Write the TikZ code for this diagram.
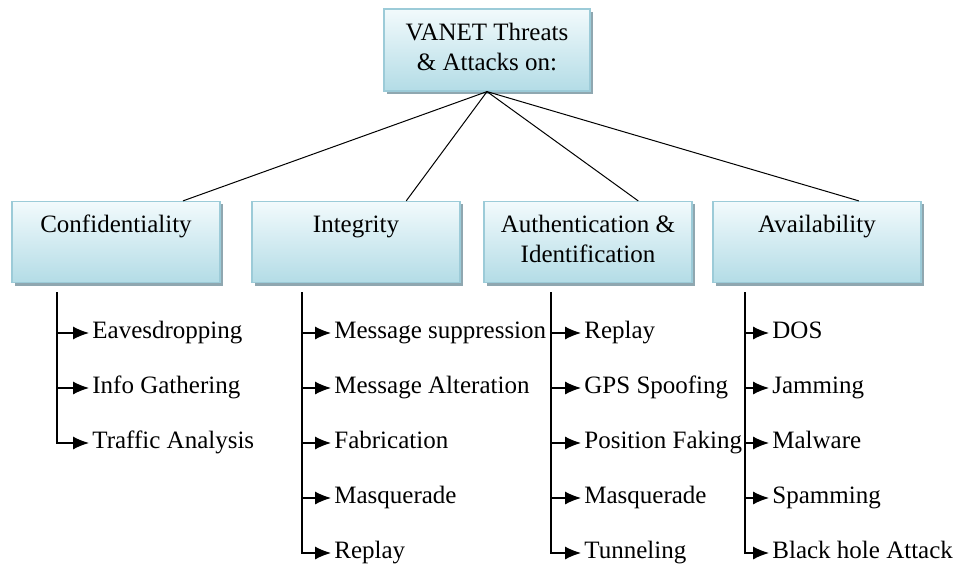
\documentclass[tikz,border=0pt]{standalone}
\usepackage{fontspec}
\setmainfont{Liberation Serif}
\usetikzlibrary{arrows.meta,shadows,calc}
\definecolor{boxtop}{HTML}{F2FAFC}
\definecolor{boxbot}{HTML}{B3DCE6}
\definecolor{boxline}{HTML}{9CCBD8}
\definecolor{boxshadow}{HTML}{8FA7B0}
\tikzset{
	catbox/.style={draw=boxline, line width=0.6pt, top color=boxtop, bottom color=boxbot,
		minimum width=104pt, minimum height=40.5pt, align=center, inner sep=2pt,
		drop shadow={shadow xshift=1.5pt, shadow yshift=-1.5pt, fill=boxshadow, opacity=1}},
	item/.style={anchor=west, inner sep=1.5pt, text height=1.6ex, text depth=.3ex},
	branch/.style={line width=0.6pt, -{Latex[length=8pt,width=6.5pt]}},
	link/.style={line width=0.5pt}
}
\begin{document}
\begin{tikzpicture}[x=0.5pt,y=-0.5pt,font=\fontsize{12.5}{15}\selectfont]
	\useasboundingbox (0,0) rectangle (956,566);
	% top box and the four categories
	\node [catbox, minimum width=103pt, minimum height=41pt] (vanet) at (487,50) {\strut VANET Threats\\\strut \& Attacks on:};
	\node [catbox] (conf) at (116,242) {\strut Confidentiality\\\strut};
	\node [catbox] (integ) at (356,242) {\strut Integrity\\\strut};
	\node [catbox] (auth) at (588,242) {\strut Authentication \&\\\strut Identification};
	\node [catbox] (avail) at (817,242) {\strut Availability\\\strut};
	\draw [link] (vanet.south) -- ($(conf.north west)!0.82!(conf.north east)$);
	\draw [link] (vanet.south) -- ($(integ.north west)!0.74!(integ.north east)$);
	\draw [link] (vanet.south) -- ($(auth.north west)!0.74!(auth.north east)$);
	\draw [link] (vanet.south) -- ($(avail.north west)!0.70!(avail.north east)$);
	% confidentiality
	\coordinate (confv) at (57,292);
	\node [item] (conf1) at (89,333) {Eavesdropping};
	\node [item] (conf2) at (89,388) {Info Gathering};
	\node [item] (conf3) at (89,443) {Traffic Analysis};
	\foreach \n in {conf1,conf2,conf3} \draw [branch] (confv) |- (\n);
	% integrity
	\coordinate (integv) at (302,292);
	\node [item] (integ1) at (331,333) {Message suppression};
	\node [item] (integ2) at (331,388) {Message Alteration};
	\node [item] (integ3) at (331,443) {Fabrication};
	\node [item] (integ4) at (331,498) {Masquerade};
	\node [item] (integ5) at (331,553) {Replay};
	\foreach \n in {integ1,integ2,integ3,integ4,integ5} \draw [branch] (integv) |- (\n);
	% authentication
	\coordinate (authv) at (551,292);
	\node [item] (auth1) at (581,333) {Replay};
	\node [item] (auth2) at (581,388) {GPS Spoofing};
	\node [item] (auth3) at (581,443) {Position Faking};
	\node [item] (auth4) at (581,498) {Masquerade};
	\node [item] (auth5) at (581,553) {Tunneling};
	\foreach \n in {auth1,auth2,auth3,auth4,auth5} \draw [branch] (authv) |- (\n);
	% availability
	\coordinate (availv) at (745,292);
	\node [item] (avail1) at (769,333) {DOS};
	\node [item] (avail2) at (769,388) {Jamming};
	\node [item] (avail3) at (769,443) {Malware};
	\node [item] (avail4) at (769,498) {Spamming};
	\node [item] (avail5) at (769,553) {Black hole Attack};
	\foreach \n in {avail1,avail2,avail3,avail4,avail5} \draw [branch] (availv) |- (\n);
\end{tikzpicture}
\end{document}
